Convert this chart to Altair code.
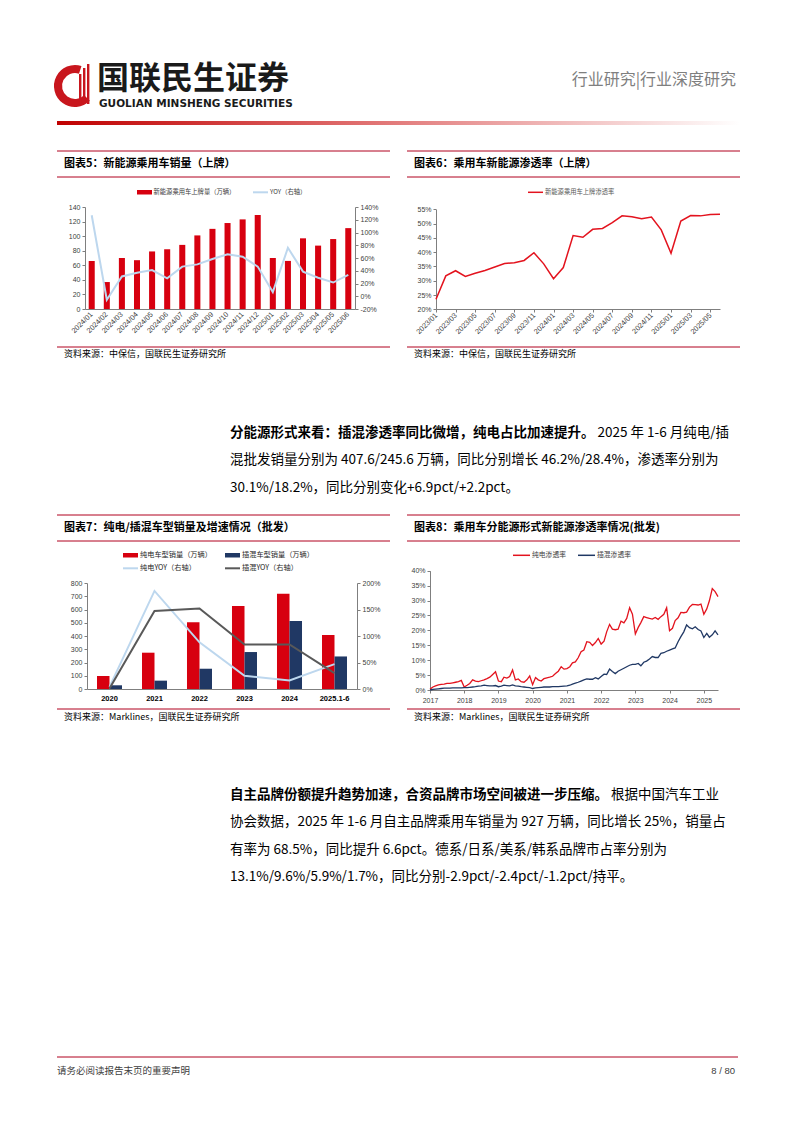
import altair as alt
import pandas as pd
import numpy as np

# ---------------- data ----------------
months5 = ["2024/01", "2024/02", "2024/03", "2024/04", "2024/05", "2024/06",
           "2024/07", "2024/08", "2024/09", "2024/10", "2024/11", "2024/12",
           "2025/01", "2025/02", "2025/03", "2025/04", "2025/05", "2025/06"]
sales5 = [66, 37, 70, 67, 79, 82, 88, 101, 110, 118, 123, 129, 70, 66, 97, 87, 96, 111]
yoy5 = [127, -5.5, 31, 37, 41, 28, 46.5, 50, 58.5, 66, 62, 46.5, 6.5, 76, 38.7, 29, 21.5, 33.5]

months6 = ["2023/01", "2023/02", "2023/03", "2023/04", "2023/05", "2023/06",
           "2023/07", "2023/08", "2023/09", "2023/10", "2023/11", "2023/12",
           "2024/01", "2024/02", "2024/03", "2024/04", "2024/05", "2024/06",
           "2024/07", "2024/08", "2024/09", "2024/10", "2024/11", "2024/12",
           "2025/01", "2025/02", "2025/03", "2025/04", "2025/05", "2025/06"]
pen6 = [23.5, 31.7, 33.5, 31.5, 32.6, 33.6, 34.8, 36.0, 36.3, 37.1, 39.8, 35.9,
        30.7, 34.6, 45.8, 45.2, 48.0, 48.3, 50.3, 52.7, 52.4, 51.7, 52.3, 47.8,
        39.6, 50.9, 52.8, 52.7, 53.2, 53.3]

years7 = ["2020", "2021", "2022", "2023", "2024", "2025.1-6"]
bev7 = [98, 274, 503, 626, 719, 407.6]
phev7 = [28, 63, 153, 279, 513, 245.6]
bev_yoy7 = [4, 185, 88, 25, 16, 47]
phev_yoy7 = [1, 147, 152, 84, 84, 30]

bev8 = [0.3, 1.0, 1.4, 1.7, 1.9, 2.0, 2.2, 2.2, 2.4, 2.6, 2.8, 3.2,
        1.0, 1.6, 2.2, 3.4, 3.0, 2.8, 3.1, 3.4, 3.8, 4.3, 5.2, 6.1,
        3.0, 2.8, 4.3, 4.0, 4.5, 6.7, 3.4, 3.7, 2.8, 2.6, 3.4, 4.7,
        1.8, 4.2, 3.4, 3.0, 3.8, 4.1, 4.3, 4.6, 5.5, 6.3, 7.8, 7.0,
        7.2, 7.8, 9.1, 9.4, 10.8, 12.8, 13.4, 16.2, 16.0, 14.9, 15.9, 17.3,
        15.4, 16.4, 19.5, 22.0, 20.4, 20.2, 20.4, 23.1, 22.5, 24.0, 27.6, 25.4,
        18.8, 21.0, 22.6, 24.6, 24.3, 24.0, 23.8, 24.3, 23.7, 24.6, 25.4, 27.6,
        19.9, 20.7, 23.3, 24.2, 26.0, 25.9, 26.1, 27.8, 28.7, 28.6, 28.5, 28.8,
        25.4, 27.2, 29.9, 34.0, 33.0, 31.3]
phev8 = [0.0, 0.2, 0.3, 0.4, 0.5, 0.6, 0.6, 0.6, 0.7, 0.7, 0.7, 0.7,
         0.8, 0.8, 0.9, 1.0, 1.1, 1.3, 1.4, 1.6, 1.5, 1.4, 1.4, 1.5,
         1.1, 1.3, 1.6, 1.5, 1.4, 1.7, 1.4, 1.3, 1.1, 1.0, 0.9, 0.8,
         0.5, 0.7, 0.8, 0.9, 1.0, 1.0, 1.0, 1.1, 1.1, 1.1, 1.2, 1.3,
         1.4, 1.6, 2.0, 2.3, 2.6, 3.0, 3.4, 3.7, 3.6, 3.6, 4.1, 3.7,
         4.5, 5.3, 5.2, 7.0, 6.2, 5.5, 6.3, 6.8, 7.3, 7.8, 8.3, 8.6,
         8.6, 8.9, 8.1, 9.3, 9.7, 10.4, 11.2, 10.9, 10.9, 12.3, 12.5, 13.0,
         13.4, 13.8, 14.1, 16.2, 17.9, 19.5, 21.8, 20.9, 20.5, 21.2, 20.3, 19.8,
         17.6, 19.0, 17.7, 18.5, 19.8, 18.5]
months8 = pd.date_range("2017-01-01", periods=len(bev8), freq="MS")

para1 = [("分能源形式来看：插混渗透率同比微增，纯电占比加速提升。", "2025 年 1-6 月纯电/插"),
         ("", "混批发销量分别为 407.6/245.6 万辆，同比分别增长 46.2%/28.4%，渗透率分别为"),
         ("", "30.1%/18.2%，同比分别变化+6.9pct/+2.2pct。")]
para2 = [("自主品牌份额提升趋势加速，合资品牌市场空间被进一步压缩。", "根据中国汽车工业"),
         ("", "协会数据，2025 年 1-6 月自主品牌乘用车销量为 927 万辆，同比增长 25%，销量占"),
         ("", "有率为 68.5%，同比提升 6.6pct。德系/日系/美系/韩系品牌市占率分别为"),
         ("", "13.1%/9.6%/5.9%/1.7%，同比分别-2.9pct/-2.4pct/-1.2pct/持平。")]

# ---------------- style ----------------
W, H = 778, 1107
CJK = "Noto Sans CJK SC"
NUM = "Liberation Sans"
RED = "#D7000F"
NAVY = "#203864"
LBLUE = "#BDD7EE"
GRAY = "#595959"
LRED = "#E3131E"
BOXC = "#B0001E"

def X(p):
    return p - 8

def Y(p):
    return p - 8

ONE = pd.DataFrame({"k": [0]})

def txt(s, x, y, size, weight="normal", color="#000000", align="left", font=CJK):
    return alt.Chart(ONE).mark_text(text=s, fontSize=size, fontWeight=weight, color=color,
                                    align=align, baseline="middle", font=font).encode(
        x=alt.value(X(x)), y=alt.value(Y(y)))

def hrule(x1, x2, y, color, w=1.0):
    return alt.Chart(ONE).mark_rule(color=color, strokeWidth=w).encode(
        x=alt.value(X(x1)), x2=alt.value(X(x2)), y=alt.value(Y(y)))

def rect(x1, y1, x2, y2, color):
    return alt.Chart(ONE).mark_rect(color=color).encode(
        x=alt.value(X(x1)), x2=alt.value(X(x2)), y=alt.value(Y(y1)), y2=alt.value(Y(y2)))

def ax(orient, pos, **kw):
    if orient == "left":
        off = -X(pos)
    elif orient == "right":
        off = X(pos) - W
    else:
        off = Y(pos) - H
    base = dict(orient=orient, offset=off, grid=False, labelFont=NUM, labelFontSize=7,
                labelColor="#404040", domainColor="#7f7f7f", tickColor="#7f7f7f",
                tickSize=3, labelPadding=2, labelOverlap=False)
    base.update(kw)
    return alt.Axis(**base)

layers = []

# ---------------- page header ----------------
layers.append(alt.Chart(ONE).mark_arc(color="#C8161D").encode(
    x=alt.value(X(75)), y=alt.value(Y(86)), theta=alt.value(0.75 * np.pi),
    theta2=alt.value(2.1 * np.pi), radius=alt.value(21), radius2=alt.value(13)))
for bx, top in [(79, 74), (83, 68), (87, 64)]:
    layers.append(rect(bx, top, bx + 2.4, 104, "#C8161D"))
layers.append(txt("国联民生证券", 97, 79, 32, "bold", "#1a1a1a"))
layers.append(txt("GUOLIAN MINSHENG SECURITIES", 99, 104, 10.5, "bold", "#1a1a1a", font="DejaVu Sans"))
layers.append(txt("行业研究|行业深度研究", 736, 80, 16, "normal", "#7f7f7f", align="right"))
layers.append(alt.Chart(ONE).mark_rect(color=alt.Gradient(
    gradient="linear", x1=0, x2=1, y1=0, y2=0,
    stops=[alt.GradientStop(offset=0, color="#C00000"),
           alt.GradientStop(offset=0.45, color="#E07070"),
           alt.GradientStop(offset=1, color="#FFFFFF")])).encode(
    x=alt.value(X(57)), x2=alt.value(X(740)), y=alt.value(Y(121)), y2=alt.value(Y(125))))

# ---------------- boxes (titles / sources) ----------------
for (x1, x2) in [(57, 390), (407, 740)]:
    for yy in (151, 177, 347, 515, 541, 709):
        layers.append(hrule(x1, x2, yy, BOXC, 1.0))
layers.append(txt("图表5：新能源乘用车销量（上牌）", 64, 164, 11, "bold"))
layers.append(txt("图表6：乘用车新能源渗透率（上牌）", 414, 164, 11, "bold"))
layers.append(txt("图表7：纯电/插混车型销量及增速情况（批发）", 64, 528, 11, "bold"))
layers.append(txt("图表8：乘用车分能源形式新能源渗透率情况(批发)", 414, 528, 11, "bold"))
layers.append(txt("资料来源：中保信，国联民生证券研究所", 64, 354, 9, "normal"))
layers.append(txt("资料来源：中保信，国联民生证券研究所", 414, 354, 9, "normal"))
layers.append(txt("资料来源：Marklines，国联民生证券研究所", 64, 717, 9, "normal"))
layers.append(txt("资料来源：Marklines，国联民生证券研究所", 414, 717, 9, "normal"))

# ---------------- chart 5 ----------------
df5 = pd.DataFrame({"month": months5, "sales": sales5, "yoy": yoy5})
sc5x = alt.Scale(type="band", range=[X(85), X(355)], paddingInner=0.6, paddingOuter=0.245)
layers.append(alt.Chart(df5).mark_bar(color=RED).encode(
    x=alt.X("month:N", sort=months5, scale=sc5x, title=None,
            axis=ax("bottom", 309, labelAngle=-45, labelAlign="right", labelBaseline="middle",
                    ticks=False, labelPadding=4, labelFontSize=7.3)),
    y=alt.Y("sales:Q", scale=alt.Scale(domain=[0, 140], range=[Y(309), Y(207)], nice=False),
            title=None, axis=ax("left", 85, values=list(range(0, 141, 20))))))
layers.append(alt.Chart(df5).mark_line(color=LBLUE, strokeWidth=2).encode(
    x=alt.X("month:N", sort=months5, scale=sc5x, bandPosition=0.5, axis=None),
    y=alt.Y("yoy:Q", scale=alt.Scale(domain=[-20, 140], range=[Y(309), Y(207)], nice=False),
            title=None, axis=ax("right", 355, values=list(range(-20, 141, 20)),
                                labelExpr="datum.value + '%'"))))
layers.append(rect(137, 190, 152, 194.5, RED))
layers.append(txt("新能源乘用车上牌量（万辆）", 153.5, 192.3, 6.3, color="#404040"))
layers.append(hrule(253, 268, 192.3, LBLUE, 2))
layers.append(txt("YOY（右轴）", 270, 192.3, 6.3, color="#404040"))

# ---------------- chart 6 ----------------
df6 = pd.DataFrame({"month": months6, "pen": pen6})
layers.append(alt.Chart(df6).mark_line(color=LRED, strokeWidth=1.5).encode(
    x=alt.X("month:N", sort=months6, title=None,
            scale=alt.Scale(type="point", range=[X(436), X(720)], padding=0),
            axis=ax("bottom", 309, values=months6[::2], labelAngle=-45, labelAlign="right",
                    labelBaseline="middle", labelPadding=2, labelFontSize=7.3)),
    y=alt.Y("pen:Q", scale=alt.Scale(domain=[20, 55], range=[Y(309.3), Y(209.3)], nice=False),
            title=None, axis=ax("left", 436, values=list(range(20, 56, 5)),
                                labelExpr="datum.value + '%'"))))
layers.append(hrule(528, 543, 192.3, LRED, 1.5))
layers.append(txt("新能源乘用车上牌渗透率", 545, 192.3, 6.3, color="#595959"))

# ---------------- chart 7 ----------------
df7 = pd.DataFrame({"year": years7 * 2, "kind": ["纯电"] * 6 + ["插混"] * 6, "sales": bev7 + phev7})
df7l = pd.DataFrame({"year": years7, "bev_yoy": bev_yoy7, "phev_yoy": phev_yoy7})
sc7x = alt.Scale(type="band", range=[X(87), X(357)], paddingInner=0.444, paddingOuter=0.222)
yr7 = alt.Scale(domain=[0, 200], range=[Y(689), Y(583)], nice=False)
layers.append(alt.Chart(df7).mark_bar().encode(
    x=alt.X("year:N", sort=years7, scale=sc7x, title=None,
            axis=ax("bottom", 689, ticks=False, labelAngle=0, labelAlign="center",
                    labelBaseline="top", labelFontSize=7.5, labelFontWeight="bold",
                    labelColor="#000000", labelPadding=5)),
    xOffset=alt.XOffset("kind:N", sort=["纯电", "插混"], scale=alt.Scale(paddingInner=0, paddingOuter=0)),
    y=alt.Y("sales:Q", scale=alt.Scale(domain=[0, 800], range=[Y(689), Y(583)], nice=False),
            title=None, axis=ax("left", 87, values=list(range(0, 801, 100)))),
    color=alt.Color("kind:N", scale=alt.Scale(domain=["纯电", "插混"], range=[RED, NAVY]), legend=None)))
layers.append(alt.Chart(df7l).mark_line(color=LBLUE, strokeWidth=2).encode(
    x=alt.X("year:N", sort=years7, scale=sc7x, bandPosition=0.5, axis=None),
    y=alt.Y("bev_yoy:Q", scale=yr7, title=None,
            axis=ax("right", 357, values=[0, 50, 100, 150, 200], labelExpr="datum.value + '%'"))))
layers.append(alt.Chart(df7l).mark_line(color=GRAY, strokeWidth=2).encode(
    x=alt.X("year:N", sort=years7, scale=sc7x, bandPosition=0.5, axis=None),
    y=alt.Y("phev_yoy:Q", scale=yr7, axis=None)))
layers.append(rect(123, 553, 138, 557.5, RED))
layers.append(txt("纯电车型销量（万辆）", 140, 555.3, 7.2, color="#262626"))
layers.append(rect(225, 553, 240, 557.5, NAVY))
layers.append(txt("插混车型销量（万辆）", 242, 555.3, 7.2, color="#262626"))
layers.append(hrule(123, 138, 568.3, LBLUE, 2))
layers.append(txt("纯电YOY（右轴）", 140, 568.3, 7.2, color="#262626"))
layers.append(hrule(225, 240, 568.3, GRAY, 2))
layers.append(txt("插混YOY（右轴）", 242, 568.3, 7.2, color="#262626"))

# ---------------- chart 8 ----------------
df8 = pd.DataFrame({"month": months8, "bev": bev8, "phev": phev8})
sc8x = alt.Scale(domain=[alt.DateTime(year=2017, month=1, date=1), alt.DateTime(year=2025, month=6, date=1)],
                 range=[X(430), X(718)])
yr8 = alt.Scale(domain=[0, 40], range=[Y(690), Y(570.7)], nice=False)
layers.append(alt.Chart(df8).mark_line(color=LRED, strokeWidth=1.3).encode(
    x=alt.X("month:T", scale=sc8x, title=None,
            axis=ax("bottom", 690, values=[alt.DateTime(year=y, month=1, date=1) for y in range(2017, 2026)],
                    format="%Y", labelFlush=False, labelPadding=3)),
    y=alt.Y("bev:Q", scale=yr8, title=None,
            axis=ax("left", 430, values=list(range(0, 41, 5)), labelExpr="datum.value + '%'"))))
layers.append(alt.Chart(df8).mark_line(color=NAVY, strokeWidth=1.3).encode(
    x=alt.X("month:T", scale=sc8x, axis=None),
    y=alt.Y("phev:Q", scale=yr8, axis=None)))
layers.append(hrule(513, 530, 555.3, LRED, 1.5))
layers.append(txt("纯电渗透率", 532, 555.3, 6.8, color="#404040"))
layers.append(hrule(578, 595, 555.3, NAVY, 1.5))
layers.append(txt("插混渗透率", 597, 555.3, 6.8, color="#404040"))

# ---------------- body paragraphs ----------------
FS = 13.5
for lines, y0 in [(para1, 433), (para2, 795)]:
    for i, (b, n) in enumerate(lines):
        yy = y0 + i * 27.3
        xs = 230
        if b:
            layers.append(txt(b, xs, yy, FS, "bold"))
            xs = 230 + len(b) * FS + 3
        layers.append(txt(n, xs, yy, FS, "normal"))

# ---------------- footer ----------------
layers.append(hrule(57, 738, 1057, BOXC, 1.0))
layers.append(txt("请务必阅读报告末页的重要声明", 57, 1071, 9.5, color="#404040"))
layers.append(txt("8 / 80", 735, 1071, 9.5, color="#404040", align="right", font=NUM))

chart = alt.layer(*layers).resolve_scale(x="independent", y="independent").properties(
    width=W, height=H, padding=0, background="white",
    autosize=alt.AutoSizeParams(type="none")
).configure_view(stroke=None)

chart.save("out.html", embed_options={"renderer": "svg", "actions": False})
